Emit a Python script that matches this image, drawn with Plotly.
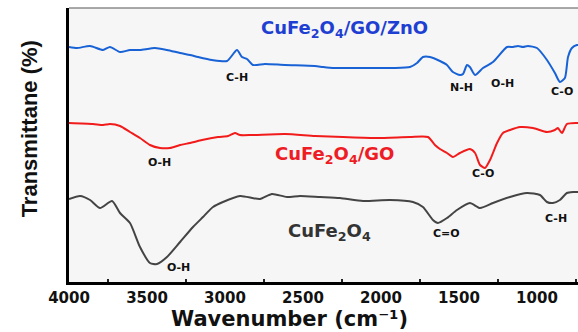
import plotly.graph_objects as go

# Wavenumber (cm^-1) and transmittance (arbitrary, offset units) for each spectrum
wn_zno = [4000, 3949, 3865, 3782, 3737, 3673, 3609, 3545, 3449, 3372, 3288, 3224, 3173, 3083, 2987,
          2923, 2891, 2859, 2821, 2744, 2615, 2423, 2372, 2308, 2244, 2135, 1923, 1814, 1769, 1731,
          1686, 1622, 1577, 1539, 1494, 1474, 1449, 1430, 1397, 1346, 1282, 1192, 1154, 1122, 1090,
          1058, 1000, 936, 885, 853, 821, 801, 776, 744, 730]
t_zno = [235, 234, 236, 232, 235, 230, 232, 232, 234, 232, 229, 227, 225, 222, 221,
         232, 225, 223, 217, 218, 217, 216, 215, 214, 214, 214, 214, 215, 219, 225,
         225, 221, 217, 210, 207, 208, 217, 215, 207, 214, 220, 235, 235, 236, 235,
         236, 234, 222, 209, 200, 204, 225, 234, 237, 237]

wn_go = [4000, 3846, 3782, 3737, 3673, 3609, 3545, 3481, 3417, 3353, 3288, 3224, 3147, 3045, 2981,
         2936, 2904, 2827, 2615, 2423, 2244, 2026, 1814, 1699, 1654, 1622, 1577, 1539, 1494, 1430,
         1397, 1365, 1333, 1301, 1256, 1218, 1173, 1109, 1026, 936, 885, 866, 840, 808, 744, 730]
t_go = [159, 158, 157, 158, 156, 150, 144, 137, 134, 134, 137, 139, 142, 145, 146,
        149, 147, 147, 148, 146, 145, 144, 145, 145, 137, 133, 129, 125, 129, 133,
        129, 117, 114, 122, 139, 149, 152, 155, 154, 150, 152, 154, 149, 158, 159, 159]

wn_cf = [4000, 3929, 3865, 3801, 3724, 3673, 3609, 3545, 3481, 3436, 3372, 3288, 3205, 3141, 3077,
         3013, 2904, 2776, 2699, 2603, 2519, 2391, 2263, 2115, 1942, 1795, 1731, 1667, 1635, 1577,
         1513, 1430, 1365, 1282, 1173, 1064, 981, 936, 898, 853, 808, 769, 744, 730]
t_cf = [83, 86, 82, 74, 81, 69, 59, 35, 19, 18, 25, 40, 55, 65, 75,
        80, 86, 83, 88, 85, 86, 85, 84, 81, 82, 80, 75, 62, 59, 64,
        72, 79, 74, 79, 85, 89, 87, 80, 79, 82, 89, 90, 90, 90]

x_ticks = [4000, 3500, 3000, 2500, 2000, 1500, 1000]

# Band labels: (text, wavenumber, value)
band_text = ["C-H", "N-H", "O-H", "C-O", "O-H", "C-O", "O-H", "C=O", "C-H"]
band_wn = [2923, 1487, 1224, 840, 3417, 1346, 3295, 1577, 878]
band_val = [205, 195, 199, 191, 120, 109, 15, 49, 64]

series_names = ["CuFe<sub>2</sub>O<sub>4</sub>/GO/ZnO", "CuFe<sub>2</sub>O<sub>4</sub>/GO",
                "CuFe<sub>2</sub>O<sub>4</sub>"]
name_wn = [2237, 2295, 2327]
name_val = [253, 127, 50]
name_colors = ["#1f3fd2", "#ee1c24", "#333333"]
line_colors = ["#1862d6", "#f21b1b", "#444444"]

fig = go.Figure()
for xs, ys, c in [(wn_zno, t_zno, line_colors[0]), (wn_go, t_go, line_colors[1]),
                  (wn_cf, t_cf, line_colors[2])]:
    fig.add_trace(go.Scatter(x=xs, y=ys, mode="lines", line=dict(color=c, width=2, shape="spline",
                                                                 smoothing=0.6),
                             showlegend=False, hoverinfo="skip"))

annotations = []
for t, x, y in zip(band_text, band_wn, band_val):
    annotations.append(dict(x=x, y=y, text="<b>%s</b>" % t, showarrow=False, xref="x", yref="y",
                            font=dict(family="DejaVu Sans", size=11, color="#111111")))
for t, x, y, c in zip(series_names, name_wn, name_val, name_colors):
    annotations.append(dict(x=x, y=y, text="<b>%s</b>" % t, showarrow=False, xref="x", yref="y",
                            font=dict(family="DejaVu Sans", size=18, color=c)))
annotations.append(dict(x=-0.077, y=0.56, xref="paper", yref="paper", textangle=-90,
                        xanchor="center", yanchor="middle",
                        text="<b>Transmittane (%)</b>", showarrow=False,
                        font=dict(family="Liberation Sans", size=22, color="#111111")))
annotations.append(dict(x=0.433, y=-0.135, xref="paper", yref="paper",
                        xanchor="center", yanchor="middle",
                        text="<b>Wavenumber (cm\u207b\u00b9)</b>", showarrow=False,
                        font=dict(family="DejaVu Sans", size=21, color="#111111")))

fig.update_layout(
    width=578, height=332,
    margin=dict(l=69, r=0, t=8, b=50),
    paper_bgcolor="#ffffff", plot_bgcolor="#f6f6f6",
    annotations=annotations,
    shapes=[dict(type="line", xref="paper", yref="paper", x0=0, x1=1, y0=1, y1=1,
                 line=dict(color="#555555", width=1.2))],
)
fig.update_xaxes(range=[4000, 737], showgrid=False, zeroline=False,
                 showline=True, linecolor="#000000", linewidth=2.5,
                 tickvals=x_ticks, ticktext=[str(v) for v in x_ticks], ticks="",
                 tickfont=dict(family="DejaVu Sans", size=15, color="#111111", weight="bold"),
                 minor=dict(ticks="inside", tick0=3750, dtick=500, ticklen=3, tickwidth=2,
                            tickcolor="#222222", showgrid=False))
fig.update_yaxes(range=[0, 274], showgrid=False, zeroline=False, showticklabels=False,
                 showline=True, linecolor="#000000", linewidth=2.5, ticks="")

fig.write_html("out.html")
